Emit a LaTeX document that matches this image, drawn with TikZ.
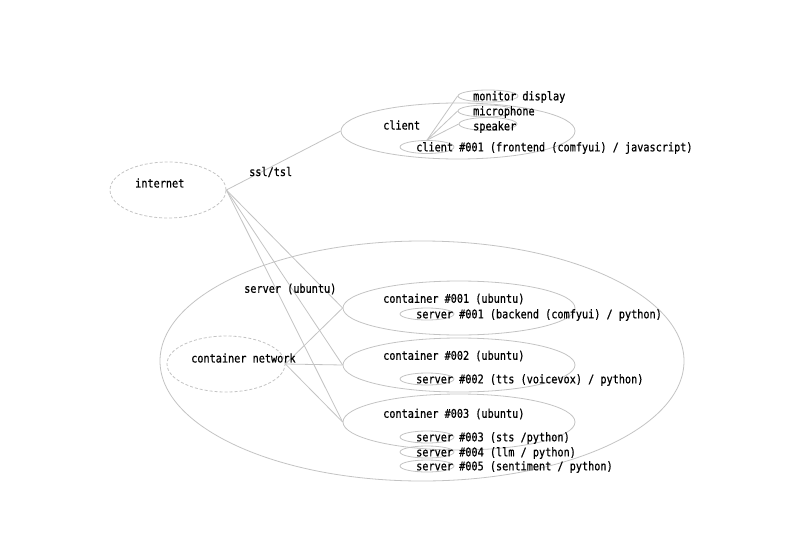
\documentclass[tikz,border=0pt]{standalone}
\usepackage{fontspec}
\newfontfamily\diagmono[FakeStretch=0.85,FakeBold=0.6]{DejaVu Sans Mono}
\usetikzlibrary{shapes.geometric}
\definecolor{linegray}{RGB}{195,195,195}
\tikzset{
  oval/.style={ellipse, draw=linegray, line width=0.8pt, inner sep=0pt},
  dashoval/.style={oval, dashed, dash pattern=on 3pt off 2pt},
  lbl/.style={anchor=west, inner sep=0pt, font=\diagmono\fontsize{12pt}{14pt}\selectfont, text=black},
  conn/.style={draw=linegray, line width=0.8pt}
}
\begin{document}
\begin{tikzpicture}[x=1pt,y=-1pt]
\useasboundingbox (0,0) rectangle (800,554);
% ellipses
\node[dashoval, minimum width=116pt, minimum height=56pt] (internet) at (168,190) {};
\node[oval, minimum width=234pt, minimum height=56pt] (client) at (458,131) {};
\node[oval, minimum width=60pt, minimum height=12pt] (monitor) at (488,96) {};
\node[oval, minimum width=56pt, minimum height=12pt] (mic) at (486,111) {};
\node[oval, minimum width=58pt, minimum height=13pt] (speaker) at (488,124) {};
\node[oval, minimum width=54pt, minimum height=13pt] (client1) at (427,147) {};
\node[oval, minimum width=524pt, minimum height=240pt] (server) at (422,361) {};
\node[dashoval, minimum width=118pt, minimum height=56pt] (cnet) at (226,364) {};
\node[oval, minimum width=232pt, minimum height=54pt] (c1) at (459,308) {};
\node[oval, minimum width=54pt, minimum height=12pt] (s1) at (427,314) {};
\node[oval, minimum width=232pt, minimum height=54pt] (c2) at (459,365) {};
\node[oval, minimum width=54pt, minimum height=12pt] (s2) at (427,379) {};
\node[oval, minimum width=232pt, minimum height=56pt] (c3) at (459,422) {};
\node[oval, minimum width=54pt, minimum height=12pt] (s3) at (427,437) {};
\node[oval, minimum width=54pt, minimum height=12pt] (s4) at (427,452) {};
\node[oval, minimum width=54pt, minimum height=12pt] (s5) at (427,466) {};
% connectors
\draw[conn] (internet.east) -- (client.west);
\draw[conn] (internet.east) -- (c1.west);
\draw[conn] (internet.east) -- (c2.west);
\draw[conn] (internet.east) -- (c3.west);
\draw[conn] (cnet.east) -- (c1.west);
\draw[conn] (cnet.east) -- (c2.west);
\draw[conn] (cnet.east) -- (c3.west);
\draw[conn] (client1.north) -- (monitor.west);
\draw[conn] (client1.north) -- (mic.west);
\draw[conn] (client1.north) -- (speaker.west);
% labels
\node[lbl] (tinternet) at (135,183) {internet};
\node[lbl] (tssl) at (249,172) {ssl/tsl};
\node[lbl] (tclient) at (383,125) {client};
\node[lbl] (tmonitor) at (473,97) {monitor display};
\node[lbl] (tmic) at (473,112) {microphone};
\node[lbl] (tspeaker) at (473,127) {speaker};
\node[lbl] (tclient1) at (416,148) {client \#001 (frontend (comfyui) / javascript)};
\node[lbl] (tserver) at (244,289) {server (ubuntu)};
\node[lbl] (tcnet) at (191,358) {container network};
\node[lbl] (tc1) at (383,299) {container \#001 (ubuntu)};
\node[lbl] (ts1) at (416,315) {server \#001 (backend (comfyui) / python)};
\node[lbl] (tc2) at (383,356) {container \#002 (ubuntu)};
\node[lbl] (ts2) at (416,380) {server \#002 (tts (voicevox) / python)};
\node[lbl] (tc3) at (383,414) {container \#003 (ubuntu)};
\node[lbl] (ts3) at (416,438) {server \#003 (sts /python)};
\node[lbl] (ts4) at (416,453) {server \#004 (llm / python)};
\node[lbl] (ts5) at (416,467) {server \#005 (sentiment / python)};
\end{tikzpicture}
\end{document}
